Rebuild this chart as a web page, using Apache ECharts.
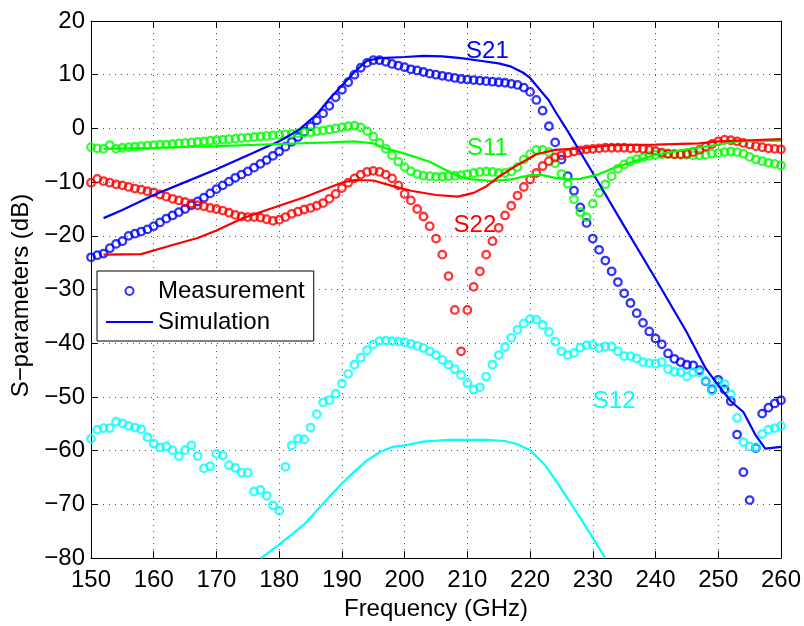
<!DOCTYPE html>
<html>
<head>
<meta charset="utf-8">
<script src="https://cdn.jsdelivr.net/npm/echarts@6/dist/echarts.min.js"></script>
<style>
  html, body { margin: 0; padding: 0; background: #fff; }
  #chart { width: 804px; height: 626px; }
</style>
</head>
<body>
<div id="chart"></div>
<script>
// Measured frequency points (GHz)
const freqGHz = [
  150,151,152,153,154,155,156,157,158,159,
  160,161,162,163,164,165,166,167,168,169,
  170,171,172,173,174,175,176,177,178,179,
  180,181,182,183,184,185,186,187,188,189,
  190,191,192,193,194,195,196,197,198,199,
  200,201,202,203,204,205,206,207,208,209,
  210,211,212,213,214,215,216,217,218,219,
  220,221,222,223,224,225,226,227,228,229,
  230,231,232,233,234,235,236,237,238,239,
  240,241,242,243,244,245,246,247,248,249,
  250,251,252,253,254,255,256,257,258,259,
  260
];

// Measured S-parameters (dB)
const s21Meas = [
  -24.0,-23.6,-23.3,-22.3,-21.5,-21.0,-20.0,-19.6,-19.2,-18.8,
  -18.2,-17.5,-16.8,-16.2,-15.6,-15.0,-14.3,-13.6,-12.9,-12.1,
  -11.3,-10.6,-9.9,-9.2,-8.6,-8.0,-7.3,-6.6,-5.9,-5.1,
  -4.3,-3.4,-2.5,-1.6,-0.6,0.4,1.5,2.8,4.2,5.8,
  7.2,8.6,10.0,11.3,12.2,12.7,12.7,12.4,12.0,11.7,
  11.4,11.0,10.8,10.5,10.2,10.0,9.8,9.6,9.4,9.2,
  9.1,9.0,8.9,8.8,8.7,8.6,8.5,8.3,8.1,7.6,
  6.8,5.3,3.3,0.4,-2.6,-5.8,-8.9,-11.6,-14.7,-17.6,
  -20.5,-22.6,-24.6,-26.6,-28.6,-30.7,-32.5,-34.4,-36.2,-37.8,
  -39.1,-40.2,-41.9,-42.9,-43.5,-44.0,-44.1,-45.0,-47.1,-48.6,
  -46.8,-48.6,-50.8,-57.0,-64.0,-69.2,-59.5,-53.1,-52.0,-51.2,
  -50.6
];
const s11Meas = [
  -3.5,-3.7,-3.8,-3.1,-3.8,-3.6,-3.5,-3.4,-3.3,-3.2,
  -3.1,-3.0,-3.0,-2.9,-2.8,-2.7,-2.6,-2.5,-2.4,-2.3,
  -2.2,-2.1,-2.0,-1.9,-1.8,-1.7,-1.6,-1.5,-1.4,-1.3,
  -1.2,-1.1,-1.0,-0.9,-0.8,-0.7,-0.5,-0.4,-0.2,0.0,
  0.2,0.4,0.5,0.2,-0.5,-1.5,-2.7,-3.8,-5.0,-6.2,
  -7.2,-8.0,-8.5,-8.8,-8.9,-9.0,-9.0,-8.9,-8.8,-8.7,
  -8.5,-8.3,-8.1,-8.0,-8.1,-8.3,-8.3,-8.0,-7.2,-5.8,
  -4.8,-4.0,-4.0,-4.4,-6.5,-8.5,-10.3,-13.2,-15.6,-16.5,
  -14.0,-12.0,-10.4,-8.9,-7.5,-6.7,-6.1,-5.7,-5.4,-5.1,
  -4.9,-4.8,-4.8,-4.8,-4.9,-4.9,-5.0,-5.0,-4.9,-4.7,
  -4.6,-4.4,-4.3,-4.4,-4.7,-5.3,-5.8,-6.1,-6.4,-6.6,
  -6.9
];
const s22Meas = [
  -10.1,-9.4,-9.8,-10.1,-10.4,-10.6,-10.9,-11.2,-11.4,-11.7,
  -11.9,-12.3,-12.7,-13.1,-13.4,-13.7,-14.0,-14.3,-14.5,-14.8,
  -15.0,-15.3,-15.7,-16.1,-16.4,-16.5,-16.5,-16.6,-16.9,-17.2,
  -17.0,-16.5,-15.9,-15.5,-15.1,-14.8,-14.4,-13.9,-13.1,-12.2,
  -11.1,-10.1,-9.3,-8.6,-8.1,-7.9,-8.1,-8.6,-9.3,-10.6,
  -12.2,-13.4,-15.0,-16.4,-18.2,-20.5,-23.5,-27.5,-33.8,-41.5,
  -33.8,-29.5,-26.6,-23.5,-21.0,-18.5,-16.2,-14.4,-12.5,-10.9,
  -9.5,-8.3,-7.0,-6.1,-5.4,-5.0,-4.6,-4.3,-4.1,-3.9,
  -3.8,-3.7,-3.6,-3.6,-3.6,-3.6,-3.7,-3.7,-3.8,-4.0,
  -4.2,-4.5,-4.7,-4.8,-4.8,-4.7,-4.4,-4.0,-3.4,-2.9,
  -2.4,-2.1,-2.2,-2.4,-2.7,-3.0,-3.3,-3.5,-3.7,-3.8,
  -3.9
];
const s12Meas = [
  -57.8,-56.1,-55.8,-55.8,-54.6,-54.9,-55.4,-55.7,-56.0,-57.5,
  -58.7,-59.4,-59.2,-59.9,-61.0,-59.9,-59.0,-61.0,-63.3,-62.9,
  -60.6,-60.9,-62.7,-63.2,-64.1,-64.1,-67.6,-67.3,-68.4,-70.2,
  -71.2,-63.0,-59.0,-57.8,-57.9,-55.7,-53.2,-51.0,-50.6,-49.4,
  -47.5,-45.7,-44.0,-42.7,-41.3,-40.2,-39.6,-39.5,-39.6,-39.7,
  -39.8,-40.1,-40.5,-40.9,-41.5,-42.2,-43.1,-44.0,-44.8,-45.9,
  -47.4,-48.6,-48.2,-46.2,-44.0,-42.2,-40.7,-39.0,-37.5,-36.3,
  -35.5,-35.6,-36.6,-37.9,-39.7,-41.5,-42.2,-41.8,-40.8,-40.4,
  -40.3,-40.9,-40.6,-40.6,-41.5,-42.4,-42.4,-42.8,-43.5,-43.7,
  -43.8,-43.5,-44.8,-45.3,-45.4,-46.2,-45.4,-45.4,-47.0,-48.8,
  -47.3,-47.6,-49.5,-53.9,-58.4,-59.2,-59.4,-56.9,-56.1,-55.8,
  -55.4
];

// Simulated S-parameters: [frequency GHz, dB]
const s21Sim = [
  [152,-16.7],[155,-15.2],[160,-12.4],[165,-10.0],[170,-7.6],[175,-5.0],
  [180,-2.4],[183,-0.4],[186,2.6],[188,5.5],[190,8.0],[192,10.5],[194,12.6],
  [196,13.1],[200,13.3],[203,13.5],[206,13.4],[209,13.1],[212,12.6],[215,12.1],
  [217,11.5],[219,10.3],[220,9.4],[221,8.0],[222,6.6],[223,5.2],[224,3.2],
  [226,-0.5],[230,-8.3],[235,-18.2],[240,-28.0],[245,-38.0],[248,-44.7],
  [250,-47.8],[252,-50.8],[254,-52.8],[256,-57.2],[257.5,-59.6],[260,-59.3]
];
const s11Sim = [
  [152,-3.8],[160,-3.6],[170,-3.3],[180,-2.9],[188,-2.6],[192,-2.4],[195,-2.8],
  [197,-3.7],[200,-4.7],[204,-6.2],[207.5,-8.3],[210,-9.4],[214,-9.8],[217,-9.5],
  [220,-8.7],[222,-8.7],[224,-9.2],[226,-9.5],[228,-9.4],[231,-8.5],[233.5,-7.3],
  [237,-6.0],[240,-4.9],[245,-3.9],[250,-3.0],[253,-2.4],[260,-2.3]
];
const s22Sim = [
  [152,-23.5],[158,-23.4],[163,-21.7],[167,-20.4],[170,-19.0],[174,-16.8],
  [180,-14.4],[184,-12.8],[188,-11.0],[190,-10.1],[192,-9.6],[195,-9.7],
  [198,-10.7],[201,-11.6],[205,-12.4],[208.5,-12.7],[211,-12.0],[213,-10.8],
  [215,-9.0],[218,-6.8],[221,-4.8],[224,-4.0],[228,-3.7],[233,-3.1],[240,-3.0],
  [247,-2.8],[250,-2.4],[255,-2.2],[260,-2.0]
];
const s12Sim = [
  [177.1,-80.0],[180,-77.5],[184,-73.7],[188,-68.6],[190,-66.1],[192,-63.9],
  [194,-61.8],[196,-60.3],[198,-59.3],[200,-59.0],[203,-58.3],[207,-58.0],
  [213,-58.0],[216,-58.2],[218,-58.8],[220,-59.9],[222.4,-62.7],[224.4,-66.1],
  [228,-72.5],[232,-80.0]
];

const FONT = "'Liberation Sans', Arial, Helvetica, sans-serif";
const BLUE = '#0000ff', GREEN = '#00ff00', RED = '#ff0000', CYAN = '#00ffff';

const pairs = (xs, ys) => xs.map((x, i) => [x, ys[i]]);
const minusSign = v => (v < 0 ? '\u2212' + Math.abs(v) : String(v));

function measSeries(name, values, color) {
  return {
    name, type: 'scatter', data: pairs(freqGHz, values),
    symbol: 'circle', symbolSize: 7.5,
    itemStyle: { color: 'rgba(0,0,0,0)', borderColor: color, borderWidth: 2.3 },
    silent: true
  };
}
function simSeries(name, points, color, tag, at) {
  return {
    name, type: 'line', data: points, showSymbol: false, symbol: 'none',
    lineStyle: { color, width: 2.2 }, itemStyle: { color },
    silent: true,
    markPoint: {
      silent: true, symbol: 'rect', symbolSize: 1,
      itemStyle: { color: 'rgba(0,0,0,0)' },
      label: { show: true, position: 'inside', formatter: tag, color, fontSize: 24, fontFamily: FONT },
      data: [{ coord: at }]
    }
  };
}

const axisCommon = {
  type: 'value',
  axisLine: { show: true, onZero: false, lineStyle: { color: '#000', width: 1 } },
  axisTick: { show: true, inside: true, length: 7, lineStyle: { color: '#000', width: 1 } }
};
const gridLine = { show: true, lineStyle: { color: '#555', width: 1, type: [1, 5] } };

const chart = echarts.init(document.getElementById('chart'), null, { renderer: 'canvas' });
chart.setOption({
  animation: false,
  backgroundColor: '#fff',
  textStyle: { fontFamily: FONT },
  grid: { left: 91, top: 21, width: 693, height: 546 },
  legend: {
    left: 97, top: 271, orient: 'vertical',
    data: [
      { name: 'Measurement', icon: 'circle' },
      { name: 'Simulation', icon: 'path://M0,0H47V2H0Z' }
    ],
    itemWidth: 47, itemHeight: 8, itemGap: 7,
    padding: [8, 9, 7, 9],
    backgroundColor: '#fff', borderColor: '#000', borderWidth: 1, borderRadius: 0,
    selectedMode: false,
    textStyle: { fontSize: 24, color: '#000', fontFamily: FONT }
  },
  xAxis: [
    Object.assign({}, axisCommon, {
      min: 150, max: 260, interval: 10, position: 'bottom',
      axisLabel: { margin: 10, fontSize: 24, color: '#000', fontFamily: FONT },
      splitLine: gridLine,
      name: 'Frequency (GHz)', nameLocation: 'middle', nameGap: 32,
      nameTextStyle: { fontSize: 24, color: '#000', fontFamily: FONT }
    }),
    Object.assign({}, axisCommon, {
      min: 150, max: 260, interval: 10, position: 'top',
      axisLabel: { show: false }, splitLine: { show: false }
    })
  ],
  yAxis: [
    Object.assign({}, axisCommon, {
      min: -80, max: 20, interval: 10, position: 'left',
      axisLabel: { margin: 6, fontSize: 24, color: '#000', fontFamily: FONT, formatter: minusSign },
      splitLine: gridLine,
      name: 'S\u2212parameters (dB)', nameLocation: 'middle', nameGap: 57, nameRotate: 90,
      nameTextStyle: { fontSize: 24, color: '#000', fontFamily: FONT, padding: [0, 12, 0, 0] }
    }),
    Object.assign({}, axisCommon, {
      min: -80, max: 20, interval: 10, position: 'right',
      axisLabel: { show: false }, splitLine: { show: false }
    })
  ],
  series: [
    measSeries('Measurement', s21Meas, BLUE),
    measSeries('S11 measured', s11Meas, GREEN),
    measSeries('S22 measured', s22Meas, RED),
    measSeries('S12 measured', s12Meas, CYAN),
    simSeries('Simulation', s21Sim, BLUE, 'S21', [213.2, 14.3]),
    simSeries('S11 simulated', s11Sim, GREEN, 'S11', [213.2, -3.8]),
    simSeries('S22 simulated', s22Sim, RED, 'S22', [211.2, -18.1]),
    simSeries('S12 simulated', s12Sim, CYAN, 'S12', [233.4, -50.9])
  ]
});
</script>
</body>
</html>
